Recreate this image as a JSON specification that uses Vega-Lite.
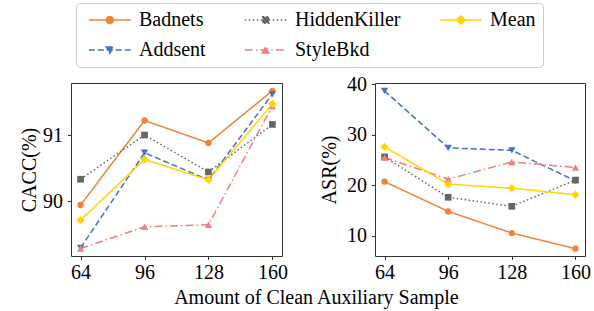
{
  "$schema": "https://vega.github.io/schema/vega-lite/v6.json",
  "background": "white",
  "padding": {"left": 19, "top": 2, "right": 5, "bottom": 5},
  "datasets": {
    "d": [
      {"m": "CACC", "method": "Badnets", "n": 64, "v": 89.94},
      {"m": "CACC", "method": "Badnets", "n": 96, "v": 91.22},
      {"m": "CACC", "method": "Badnets", "n": 128, "v": 90.88},
      {"m": "CACC", "method": "Badnets", "n": 160, "v": 91.67},
      {"m": "CACC", "method": "Addsent", "n": 64, "v": 89.29},
      {"m": "CACC", "method": "Addsent", "n": 96, "v": 90.73},
      {"m": "CACC", "method": "Addsent", "n": 128, "v": 90.32},
      {"m": "CACC", "method": "Addsent", "n": 160, "v": 91.62},
      {"m": "CACC", "method": "HiddenKiller", "n": 64, "v": 90.33},
      {"m": "CACC", "method": "HiddenKiller", "n": 96, "v": 91.0},
      {"m": "CACC", "method": "HiddenKiller", "n": 128, "v": 90.44},
      {"m": "CACC", "method": "HiddenKiller", "n": 160, "v": 91.16},
      {"m": "CACC", "method": "StyleBkd", "n": 64, "v": 89.28},
      {"m": "CACC", "method": "StyleBkd", "n": 96, "v": 89.61},
      {"m": "CACC", "method": "StyleBkd", "n": 128, "v": 89.64},
      {"m": "CACC", "method": "StyleBkd", "n": 160, "v": 91.44},
      {"m": "CACC", "method": "Mean", "n": 64, "v": 89.71},
      {"m": "CACC", "method": "Mean", "n": 96, "v": 90.63},
      {"m": "CACC", "method": "Mean", "n": 128, "v": 90.32},
      {"m": "CACC", "method": "Mean", "n": 160, "v": 91.47},
      {"m": "ASR", "method": "Badnets", "n": 64, "v": 20.7},
      {"m": "ASR", "method": "Badnets", "n": 96, "v": 14.8},
      {"m": "ASR", "method": "Badnets", "n": 128, "v": 10.5},
      {"m": "ASR", "method": "Badnets", "n": 160, "v": 7.4},
      {"m": "ASR", "method": "Addsent", "n": 64, "v": 38.7},
      {"m": "ASR", "method": "Addsent", "n": 96, "v": 27.4},
      {"m": "ASR", "method": "Addsent", "n": 128, "v": 26.9},
      {"m": "ASR", "method": "Addsent", "n": 160, "v": 20.85},
      {"m": "ASR", "method": "HiddenKiller", "n": 64, "v": 25.6},
      {"m": "ASR", "method": "HiddenKiller", "n": 96, "v": 17.6},
      {"m": "ASR", "method": "HiddenKiller", "n": 128, "v": 15.8},
      {"m": "ASR", "method": "HiddenKiller", "n": 160, "v": 21.0},
      {"m": "ASR", "method": "StyleBkd", "n": 64, "v": 25.5},
      {"m": "ASR", "method": "StyleBkd", "n": 96, "v": 21.2},
      {"m": "ASR", "method": "StyleBkd", "n": 128, "v": 24.6},
      {"m": "ASR", "method": "StyleBkd", "n": 160, "v": 23.5},
      {"m": "ASR", "method": "Mean", "n": 64, "v": 27.6},
      {"m": "ASR", "method": "Mean", "n": 96, "v": 20.2},
      {"m": "ASR", "method": "Mean", "n": 128, "v": 19.4},
      {"m": "ASR", "method": "Mean", "n": 160, "v": 18.1}
    ]
  },
  "data": {"name": "d"},
  "title": {"text": "Amount of Clean Auxiliary Sample", "orient": "bottom", "anchor": "middle", "font": "Liberation Serif", "fontSize": 20, "fontWeight": "normal", "color": "black", "offset": 5},
  "spacing": 93,
  "bounds": "flush",
  "hconcat": [
    {
      "width": 211,
      "height": 173,
      "transform": [{"filter": "datum.m === 'CACC'"}],
      "encoding": {
        "x": {"field": "n", "type": "quantitative", "scale": {"domain": [59.2, 164.8], "nice": false, "zero": false}, "axis": {"values": [64, 96, 128, 160], "title": null}},
        "y": {"field": "v", "type": "quantitative", "scale": {"domain": [89.167, 91.788], "nice": false, "zero": false}, "axis": {"values": [90, 91], "title": "CACC(%)", "titlePadding": 3}}
      },
      "layer": [
        {"mark": {"type": "point", "filled": true, "opacity": 0, "size": 49, "strokeWidth": 1.5}, "encoding": {
          "fill": {"field": "method", "type": "nominal", "scale": {"domain": ["Badnets", "Addsent", "HiddenKiller", "StyleBkd", "Mean"], "range": ["#F08336", "#4472C4", "#666666", "#F08080", "#FFD500"]}, "legend": {"orient": "none", "legendX": 5, "legendY": -80, "columns": 3, "title": null, "labelFont": "Liberation Serif", "labelFontSize": 20}},
          "stroke": {"field": "method", "type": "nominal", "scale": {"domain": ["Badnets", "Addsent", "HiddenKiller", "StyleBkd", "Mean"], "range": ["#F08336", "#4472C4", "#666666", "#F08080", "#FFD500"]}, "legend": {"orient": "none", "legendX": 5, "legendY": -80, "columns": 3, "title": null, "labelFont": "Liberation Serif", "labelFontSize": 20}},
          "strokeDash": {"field": "method", "type": "nominal", "scale": {"domain": ["Badnets", "Addsent", "HiddenKiller", "StyleBkd", "Mean"], "range": [[1, 0], [6, 3], [1.5, 2.5], [8, 3, 1.5, 3], [1, 0]]}, "legend": {"orient": "none", "legendX": 5, "legendY": -80, "columns": 3, "title": null, "labelFont": "Liberation Serif", "labelFontSize": 20}},
          "shape": {"field": "method", "type": "nominal", "scale": {"domain": ["Badnets", "Addsent", "HiddenKiller", "StyleBkd", "Mean"], "range": ["M-1.2,0H10.8M5.8,0A1,1,0,1,1,3.8,0A1,1,0,1,1,5.8,0Z", "M-1.2,0H10.8M3.8,-0.85L5.8,-0.85L4.8,1Z", "M-1.2,0H10.8M3.9,-0.9H5.7V0.9H3.9Z", "M-1.2,0H10.8M3.8,0.85L5.8,0.85L4.8,-1Z", "M-1.2,0H10.8M4.8,-1.2L6,0L4.8,1.2L3.6,0Z"]}, "legend": {"orient": "none", "legendX": 5, "legendY": -80, "columns": 3, "title": null, "labelFont": "Liberation Serif", "labelFontSize": 20}}
        }},
        {"mark": {"type": "line", "strokeWidth": 1.5}, "encoding": {
          "stroke": {"field": "method", "type": "nominal"},
          "strokeDash": {"field": "method", "type": "nominal"}}},
        {"transform": [{"filter": "datum.method === 'Badnets'"}], "mark": {"type": "point", "shape": "circle", "filled": true, "opacity": 1, "size": 40}, "encoding": {"fill": {"field": "method", "type": "nominal"}}},
        {"transform": [{"filter": "datum.method === 'Addsent'"}], "mark": {"type": "point", "shape": "triangle-down", "filled": true, "opacity": 1, "size": 55}, "encoding": {"fill": {"field": "method", "type": "nominal"}}},
        {"transform": [{"filter": "datum.method === 'HiddenKiller'"}], "mark": {"type": "point", "shape": "square", "filled": true, "opacity": 1, "size": 45}, "encoding": {"fill": {"field": "method", "type": "nominal"}}},
        {"transform": [{"filter": "datum.method === 'StyleBkd'"}], "mark": {"type": "point", "shape": "triangle-up", "filled": true, "opacity": 1, "size": 55}, "encoding": {"fill": {"field": "method", "type": "nominal"}}},
        {"transform": [{"filter": "datum.method === 'Mean'"}], "mark": {"type": "point", "shape": "diamond", "filled": true, "opacity": 1, "size": 70}, "encoding": {"fill": {"field": "method", "type": "nominal"}}}
      ]
    },
    {
      "width": 210,
      "height": 173,
      "transform": [{"filter": "datum.m === 'ASR'"}],
      "encoding": {
        "x": {"field": "n", "type": "quantitative", "scale": {"domain": [59.2, 164.8], "nice": false, "zero": false}, "axis": {"values": [64, 96, 128, 160], "title": null}},
        "y": {"field": "v", "type": "quantitative", "scale": {"domain": [5.95, 40.26], "nice": false, "zero": false}, "axis": {"values": [10, 20, 30, 40], "title": "ASR(%)", "titlePadding": 7}}
      },
      "layer": [
        {"mark": {"type": "point", "filled": true, "opacity": 0, "size": 49, "strokeWidth": 1.5}, "encoding": {
          "fill": {"field": "method", "type": "nominal", "scale": {"domain": ["Badnets", "Addsent", "HiddenKiller", "StyleBkd", "Mean"], "range": ["#F08336", "#4472C4", "#666666", "#F08080", "#FFD500"]}, "legend": {"orient": "none", "legendX": 5, "legendY": -80, "columns": 3, "title": null, "labelFont": "Liberation Serif", "labelFontSize": 20}},
          "stroke": {"field": "method", "type": "nominal", "scale": {"domain": ["Badnets", "Addsent", "HiddenKiller", "StyleBkd", "Mean"], "range": ["#F08336", "#4472C4", "#666666", "#F08080", "#FFD500"]}, "legend": {"orient": "none", "legendX": 5, "legendY": -80, "columns": 3, "title": null, "labelFont": "Liberation Serif", "labelFontSize": 20}},
          "strokeDash": {"field": "method", "type": "nominal", "scale": {"domain": ["Badnets", "Addsent", "HiddenKiller", "StyleBkd", "Mean"], "range": [[1, 0], [6, 3], [1.5, 2.5], [8, 3, 1.5, 3], [1, 0]]}, "legend": {"orient": "none", "legendX": 5, "legendY": -80, "columns": 3, "title": null, "labelFont": "Liberation Serif", "labelFontSize": 20}},
          "shape": {"field": "method", "type": "nominal", "scale": {"domain": ["Badnets", "Addsent", "HiddenKiller", "StyleBkd", "Mean"], "range": ["M-1.2,0H10.8M5.8,0A1,1,0,1,1,3.8,0A1,1,0,1,1,5.8,0Z", "M-1.2,0H10.8M3.8,-0.85L5.8,-0.85L4.8,1Z", "M-1.2,0H10.8M3.9,-0.9H5.7V0.9H3.9Z", "M-1.2,0H10.8M3.8,0.85L5.8,0.85L4.8,-1Z", "M-1.2,0H10.8M4.8,-1.2L6,0L4.8,1.2L3.6,0Z"]}, "legend": {"orient": "none", "legendX": 5, "legendY": -80, "columns": 3, "title": null, "labelFont": "Liberation Serif", "labelFontSize": 20}}
        }},
        {"mark": {"type": "line", "strokeWidth": 1.5}, "encoding": {
          "stroke": {"field": "method", "type": "nominal"},
          "strokeDash": {"field": "method", "type": "nominal"}}},
        {"transform": [{"filter": "datum.method === 'Badnets'"}], "mark": {"type": "point", "shape": "circle", "filled": true, "opacity": 1, "size": 40}, "encoding": {"fill": {"field": "method", "type": "nominal"}}},
        {"transform": [{"filter": "datum.method === 'Addsent'"}], "mark": {"type": "point", "shape": "triangle-down", "filled": true, "opacity": 1, "size": 55}, "encoding": {"fill": {"field": "method", "type": "nominal"}}},
        {"transform": [{"filter": "datum.method === 'HiddenKiller'"}], "mark": {"type": "point", "shape": "square", "filled": true, "opacity": 1, "size": 45}, "encoding": {"fill": {"field": "method", "type": "nominal"}}},
        {"transform": [{"filter": "datum.method === 'StyleBkd'"}], "mark": {"type": "point", "shape": "triangle-up", "filled": true, "opacity": 1, "size": 55}, "encoding": {"fill": {"field": "method", "type": "nominal"}}},
        {"transform": [{"filter": "datum.method === 'Mean'"}], "mark": {"type": "point", "shape": "diamond", "filled": true, "opacity": 1, "size": 70}, "encoding": {"fill": {"field": "method", "type": "nominal"}}}
      ]
    }
  ],
  "config": {
    "font": "Liberation Serif",
    "view": {"stroke": "#333333", "strokeWidth": 1},
    "axis": {"domain": false, "grid": false, "labelFont": "Liberation Serif", "labelFontSize": 20, "labelColor": "black", "titleFont": "Liberation Serif", "titleFontSize": 20, "titleFontWeight": "normal", "titleColor": "black", "tickColor": "#333333", "tickSize": 3.5, "tickWidth": 1, "labelPadding": 3, "labelFlush": false, "labelOverlap": false},
    "axisY": {"labelPadding": 5},
    "legend": {
      "symbolSize": 49, "symbolStrokeWidth": 1.5, "symbolOpacity": 1, "labelOffset": 36,
      "columnPadding": 33, "rowPadding": 10, "padding": 7,
      "strokeColor": "#cccccc", "cornerRadius": 4, "fillColor": "white",
      "labelFont": "Liberation Serif", "labelFontSize": 20, "labelColor": "black", "labelLimit": 300
    }
  }
}
